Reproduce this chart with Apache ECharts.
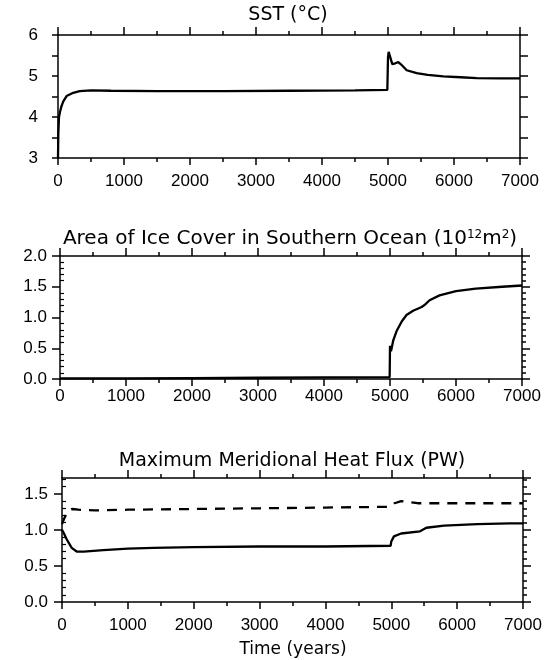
<!DOCTYPE html>
<html>
<head>
<meta charset="utf-8">
<script src="https://cdn.jsdelivr.net/npm/echarts@6/dist/echarts.min.js"></script>
<style>
html,body{margin:0;padding:0;background:#fff;}
#chart{width:551px;height:660px;}
</style>
</head>
<body>
<div id="chart"></div>
<script>
// ---- Data ----
const xTickLabels = [0, 1000, 2000, 3000, 4000, 5000, 6000, 7000];

// Panel 1: SST (°C)
const sstYears  = [0, 5, 15, 30, 50, 80, 130, 230, 330, 500, 800, 1500, 2500, 3500, 4500, 4990, 5000, 5010, 5065, 5110, 5156, 5200, 5283, 5435, 5600, 5838, 6100, 6344, 6700, 7000];
const sstValues = [3.0, 3.6, 4.0, 4.12, 4.25, 4.38, 4.51, 4.59, 4.63, 4.65, 4.64, 4.63, 4.63, 4.64, 4.65, 4.66, 5.45, 5.59, 5.29, 5.31, 5.34, 5.28, 5.14, 5.07, 5.03, 4.99, 4.97, 4.95, 4.94, 4.94];

// Panel 2: Area of ice cover in Southern Ocean (10^12 m^2)
const iceYears  = [0, 1000, 2000, 3000, 4000, 4995, 5000, 5015, 5050, 5100, 5180, 5250, 5350, 5480, 5530, 5600, 5750, 6000, 6300, 6700, 7000];
const iceValues = [0.01, 0.01, 0.015, 0.02, 0.025, 0.03, 0.54, 0.45, 0.63, 0.78, 0.94, 1.04, 1.11, 1.17, 1.21, 1.28, 1.36, 1.43, 1.47, 1.50, 1.52];

// Panel 3: Maximum meridional heat flux (PW) — solid and dashed curves
const hfSolidYears  = [0, 30, 71, 147, 223, 330, 627, 1000, 1386, 2000, 3000, 4000, 4990, 5000, 5040, 5150, 5436, 5533, 5801, 6307, 6800, 7000];
const hfSolidValues = [1.0, 0.95, 0.87, 0.75, 0.70, 0.70, 0.72, 0.74, 0.75, 0.76, 0.77, 0.77, 0.78, 0.84, 0.91, 0.95, 0.98, 1.03, 1.06, 1.08, 1.09, 1.09];
const hfDashYears   = [0, 30, 60, 100, 150, 250, 500, 1000, 2000, 3000, 4000, 4950, 5000, 5050, 5150, 5250, 5400, 6000, 7000];
const hfDashValues  = [1.08, 1.15, 1.21, 1.27, 1.29, 1.28, 1.27, 1.28, 1.29, 1.30, 1.31, 1.32, 1.33, 1.37, 1.40, 1.39, 1.37, 1.37, 1.37];

function pairs(xs, ys) { return xs.map((x, i) => [x, ys[i]]); }

// ---- Chart ----
const chart = echarts.init(document.getElementById('chart'), null, {renderer: 'canvas'});
const INK = '#000';
const labelFont = {color: INK, fontFamily: 'Liberation Sans', fontSize: 17};
const titleFont = {color: INK, fontFamily: 'DejaVu Sans', fontSize: 19, fontWeight: 'normal'};

const grids = [
  {left: 58, width: 462, top: 35, height: 123},
  {left: 60, width: 462, top: 256, height: 123},
  {left: 62, width: 461, top: 478, height: 124}
];
const yRanges = [
  {min: 3, max: 6, interval: 1},
  {min: 0, max: 2, interval: 0.5},
  {min: 0, max: 1.72, interval: 0.5}
];
const xLabelMargin = [15, 9, 15];
const yLabelMargin = [20, 13, 14];

const xAxes = [], yAxes = [];
grids.forEach((g, i) => {
  // bottom axis with labels
  xAxes.push({
    gridIndex: i, type: 'value', position: 'bottom', min: 0, max: 7000, interval: 1000,
    axisLine: {show: true, onZero: false, lineStyle: {color: INK, width: 1.5}},
    axisTick: {show: true, length: 7, lineStyle: {color: INK, width: 1.5}},
    minorTick: {show: true, splitNumber: 2, length: 4, lineStyle: {color: INK, width: 1.5}},
    axisLabel: Object.assign({margin: xLabelMargin[i], formatter: v => xTickLabels.includes(v) ? String(v) : ''}, labelFont),
    splitLine: {show: false}
  });
  // top axis (ticks only)
  xAxes.push({
    gridIndex: i, type: 'value', position: 'top', min: 0, max: 7000, interval: 1000,
    axisLine: {show: true, onZero: false, lineStyle: {color: INK, width: 1.5}},
    axisTick: {show: true, length: 8, lineStyle: {color: INK, width: 1.5}},
    minorTick: {show: true, splitNumber: 2, length: 4, lineStyle: {color: INK, width: 1.5}},
    axisLabel: {show: false}, splitLine: {show: false}
  });
  const r = yRanges[i];
  // left axis with labels
  yAxes.push({
    gridIndex: i, type: 'value', position: 'left', min: r.min, max: r.max, interval: r.interval,
    axisLine: {show: true, onZero: false, lineStyle: {color: INK, width: 1.5}},
    axisTick: {show: true, length: i === 0 ? 6 : 8, lineStyle: {color: INK, width: 1.5}},
    minorTick: {show: i === 0, splitNumber: 2, length: 6, lineStyle: {color: INK, width: 1.5}},
    axisLabel: Object.assign({margin: yLabelMargin[i], formatter: v => i === 0 ? String(v) : v.toFixed(1)}, labelFont),
    splitLine: {show: false}
  });
  // right axis (ticks only)
  yAxes.push({
    gridIndex: i, type: 'value', position: 'right', min: r.min, max: r.max, interval: r.interval,
    axisLine: {show: true, onZero: false, lineStyle: {color: INK, width: 1.5}},
    axisTick: {show: true, length: 8, lineStyle: {color: INK, width: 1.5}},
    minorTick: {show: true, splitNumber: i === 0 ? 2 : 5, length: i === 0 ? 8 : 4, lineStyle: {color: INK, width: 1.5}},
    axisLabel: {show: false}, splitLine: {show: false}
  });
  if (i > 0) {
    // inner minor ticks on left side
    yAxes.push({
      gridIndex: i, type: 'value', position: 'left', min: r.min, max: r.max, interval: r.interval,
      axisLine: {show: false, onZero: false},
      axisTick: {show: true, inside: true, length: 0, lineStyle: {color: INK, width: 1.5}},
      minorTick: {show: true, splitNumber: 5, length: 4, lineStyle: {color: INK, width: 1.2}},
      axisLabel: {show: false}, splitLine: {show: false}
    });
  }
});

const lineStyleSolid = {color: INK, width: 2.3};
const series = [
  {type: 'line', xAxisIndex: 0, yAxisIndex: 0, data: pairs(sstYears, sstValues), showSymbol: false, lineStyle: lineStyleSolid},
  {type: 'line', xAxisIndex: 2, yAxisIndex: 2, data: pairs(iceYears, iceValues), showSymbol: false, lineStyle: lineStyleSolid},
  {type: 'line', xAxisIndex: 4, yAxisIndex: 5, data: pairs(hfSolidYears, hfSolidValues), showSymbol: false, lineStyle: lineStyleSolid},
  {type: 'line', xAxisIndex: 4, yAxisIndex: 5, data: pairs(hfDashYears, hfDashValues), showSymbol: false, lineStyle: {color: INK, width: 2.3, type: [10, 8]}}
];

chart.setOption({
  animation: false,
  backgroundColor: '#fff',
  grid: grids,
  xAxis: xAxes,
  yAxis: yAxes,
  title: [
    {text: 'SST (°C)', left: 288, top: 6, padding: 0, textAlign: 'center', textStyle: titleFont},
    {text: '{n|Area of Ice Cover in Southern Ocean (10}{s|12}{n|m}{s|2}{n|)}', left: 290, top: 229, padding: 0, textAlign: 'center',
      textStyle: {rich: {n: Object.assign({}, titleFont, {fontSize: 20}), s: Object.assign({}, titleFont, {fontSize: 12, verticalAlign: 'top', padding: [0, 0, 8, 0]})}}},
    {text: 'Maximum Meridional Heat Flux (PW)', left: 292, top: 452, padding: 0, textAlign: 'center', textStyle: titleFont},
    {text: 'Time (years)', left: 293, top: 641, padding: 0, textAlign: 'center', textStyle: Object.assign({}, titleFont, {fontSize: 17})}
  ],
  series: series
});
</script>
</body>
</html>
